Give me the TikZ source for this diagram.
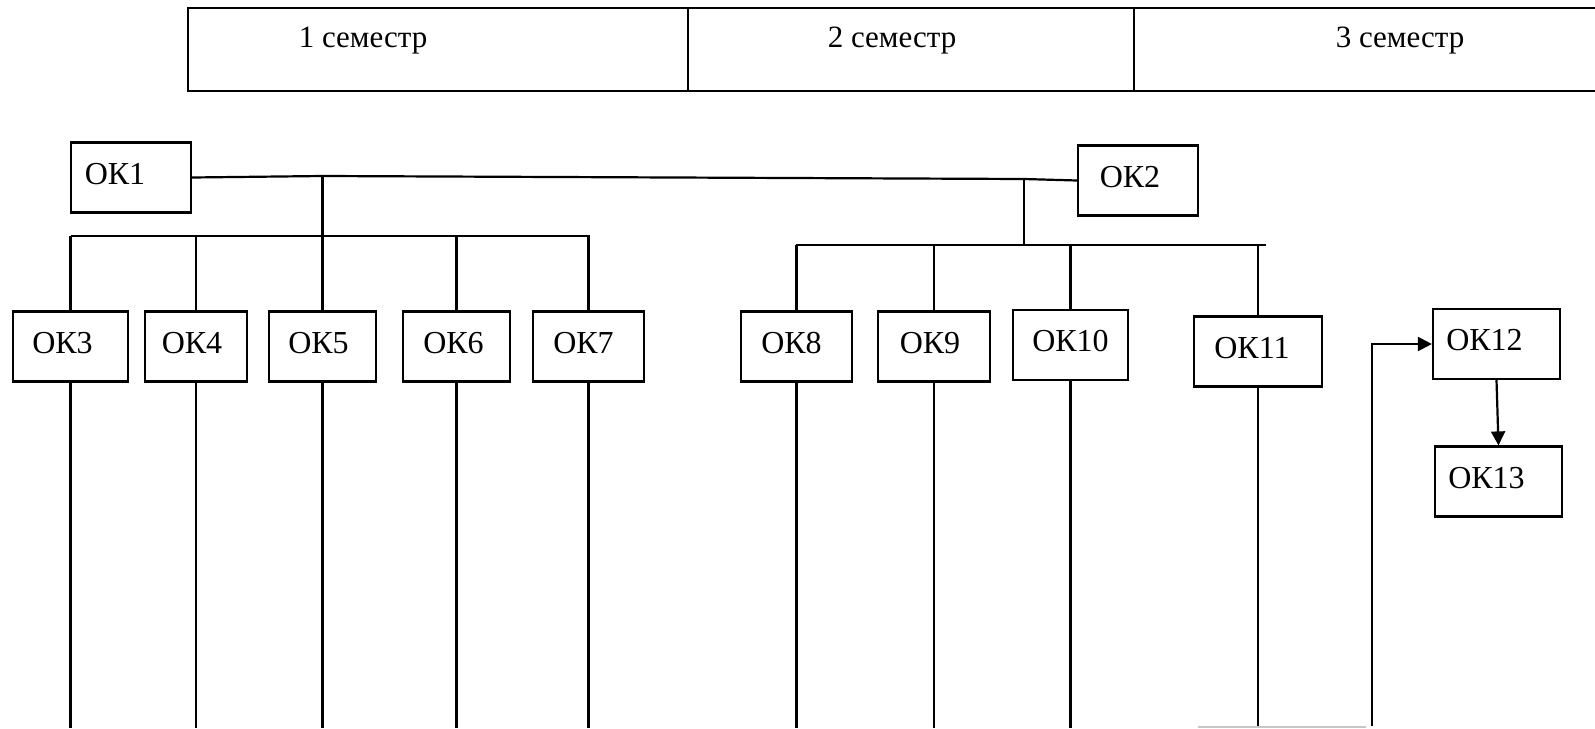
\documentclass[tikz,border=0pt]{standalone}
\usepackage{fontspec}
\setmainfont{Liberation Serif}
\usetikzlibrary{arrows.meta, positioning}

\tikzset{
  okbox/.style={draw, line width=1.1pt, inner sep=0pt, minimum height=35pt,
                text depth=4pt, font=\fontsize{16}{19}\selectfont},
  nudge/.style={execute at begin node={\hspace*{-#1}}},
  link/.style={line width=1.1pt},
  semtext/.style={anchor=base, inner sep=0pt, font=\fontsize{15.5}{18}\selectfont},
}

\begin{document}
\begin{tikzpicture}[x=0.5pt, y=-0.5pt]
\useasboundingbox (0,0) rectangle (1595,728);

% Semester table
\draw[line width=1pt] (1600,8) -- (188,8) -- (188,91) -- (1600,91);
\draw[line width=0.6pt] (688,8) -- (688,91) (1134,8) -- (1134,91);
\node[semtext] (sem1) at (363,47) {1 семестр};
\node[semtext] (sem2) at (892,47) {2 семестр};
\node[semtext] (sem3) at (1400,47) {3 семестр};

% Top level
\node[okbox, minimum width=60pt, nudge=16pt] (ok1) at (131,177.5) {ОК1};
\node[okbox, minimum width=60pt, nudge=8pt]  (ok2) at (1138,180.5) {ОК2};

% First semester
\node[okbox, minimum width=57.5pt, nudge=8pt] (ok3) at (70.5,346.5) {ОК3};
\node[okbox, minimum width=51pt, nudge=4pt]   (ok4) at (196,346.5) {ОК4};
\node[okbox, minimum width=53.5pt, nudge=4pt] (ok5) at (322.5,346.5) {ОК5};
\node[okbox, minimum width=53.5pt, nudge=3pt] (ok6) at (456.5,346.5) {ОК6};
\node[okbox, minimum width=55.5pt, nudge=5pt] (ok7) at (588.5,346.5) {ОК7};

% Second semester
\node[okbox, minimum width=55.5pt, nudge=5pt] (ok8)  at (796.5,346.5) {ОК8};
\node[okbox, minimum width=56pt, nudge=4pt]   (ok9)  at (934,346.5) {ОК9};
\node[okbox, minimum width=57.5pt, nudge=0pt] (ok10) at (1070.5,345) {ОК10};
\node[okbox, minimum width=64pt, nudge=6pt]   (ok11) at (1258,351.5) {ОК11};

% Third semester
\node[okbox, minimum width=63.5pt, nudge=12pt] (ok12) at (1496.5,344) {ОК12};
\node[okbox, minimum width=63.5pt, nudge=12pt] (ok13) at (1498.5,481.5) {ОК13};

% Buses
\coordinate (stemA) at (323,176);
\coordinate (hubB) at (1024,179);
\coordinate (busAl) at (71,236);
\coordinate (busAr) at (590,236);
\coordinate (busBl) at (796,245);
\coordinate (busBr) at (1266,245);
\coordinate (bot) at (0,728);
\coordinate (rise) at (1372,726);

\draw[link] (ok1.east) -- (stemA) -- (hubB) -- (ok2.west);
\draw[link] (ok5.north) -- (ok5.north |- stemA);
\draw[link] (hubB) -- (hubB |- busBl);
\draw[link] (busAl) -- (busAr);
\draw[link] (busBl) -- (busBr);
\foreach \k in {3,4,6,7}
  \draw[link] (ok\k.north) -- (ok\k.north |- busAl);
\foreach \k in {8,9,10,11}
  \draw[link] (ok\k.north) -- (ok\k.north |- busBl);

% Down to the bottom edge
\foreach \k in {3,4,5,6,7,8,9,10,11}
  \draw[link] (ok\k.south) -- (ok\k.south |- bot);
\draw[gray!45, line width=0.8pt] (1198,727) -- (1366,727);

% Arrows
\draw[link, -{Triangle[length=7pt, width=7pt]}] (rise) |- (ok12.west);
\draw[link, -{Triangle[length=7pt, width=7pt]}] (ok12.south) -- (ok13.north);

\end{tikzpicture}
\end{document}
